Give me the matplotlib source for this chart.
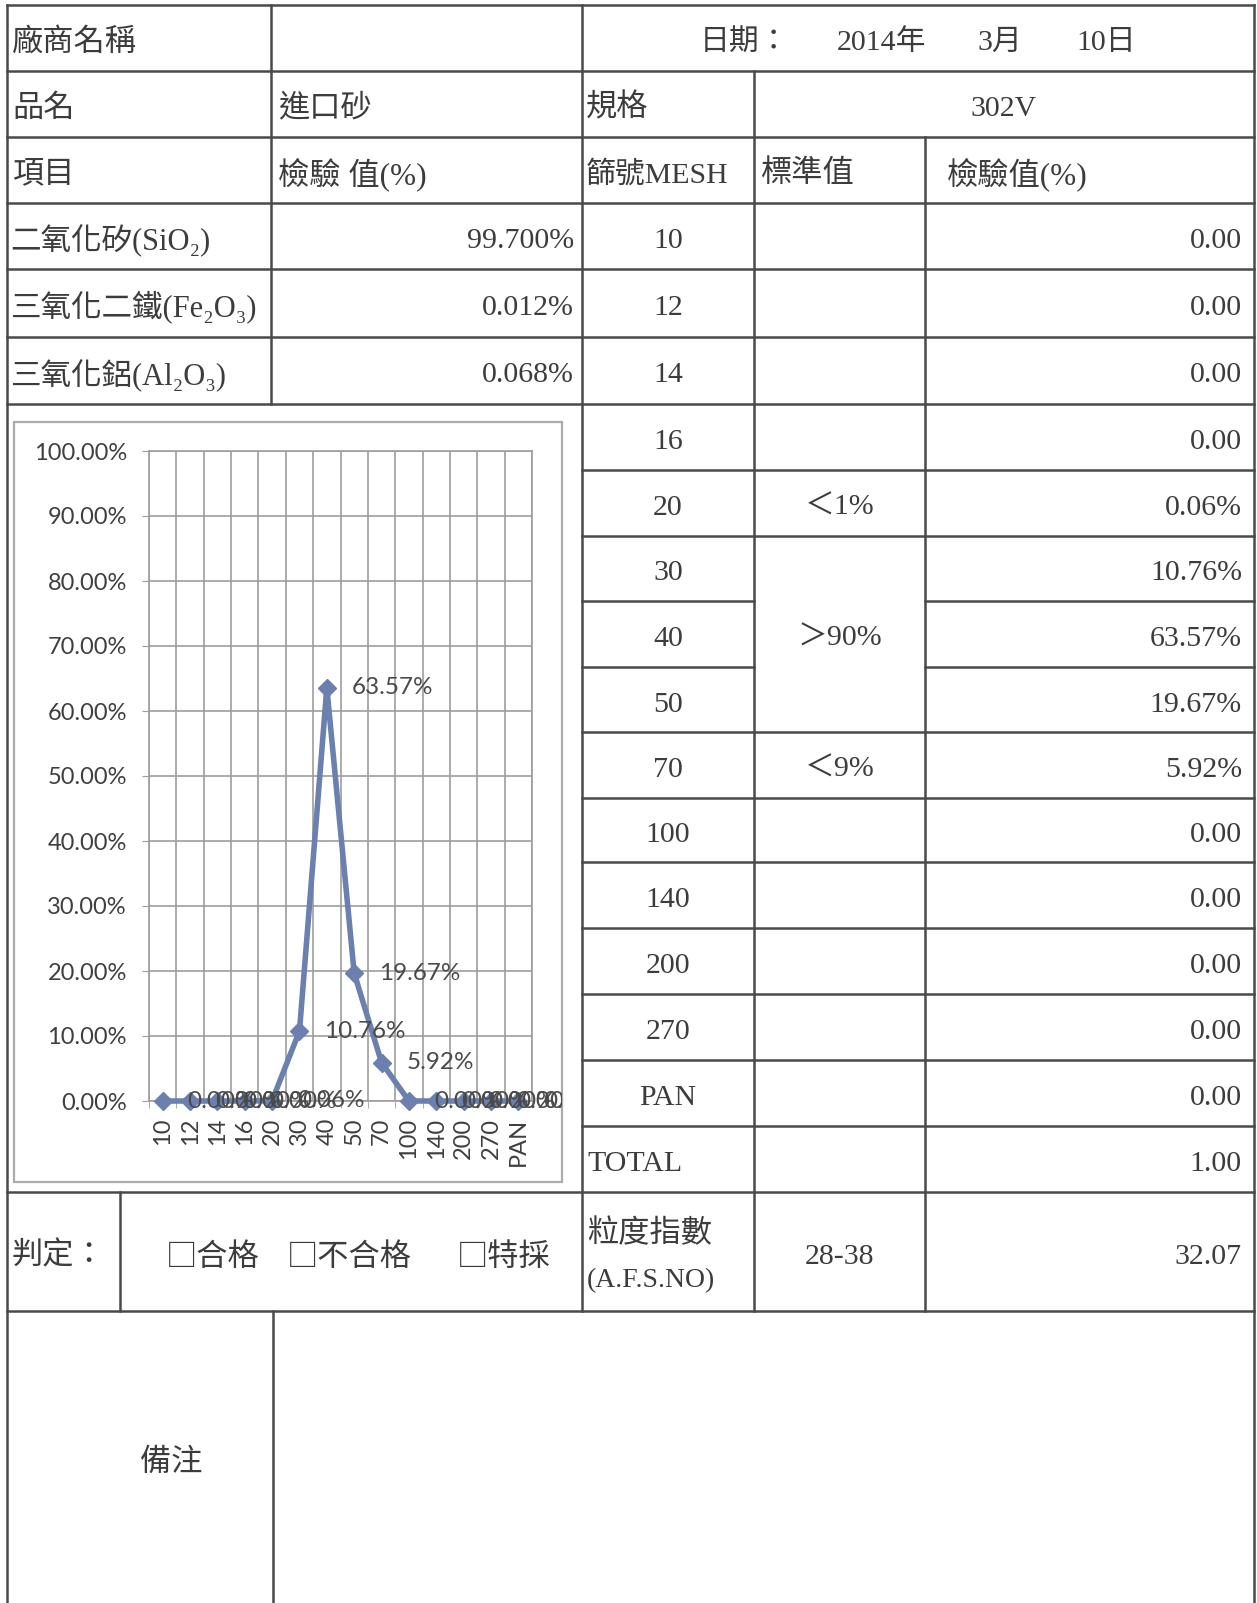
import numpy as np
import matplotlib.pyplot as plt
from matplotlib.patches import Rectangle
from matplotlib.ticker import PercentFormatter

# 表頭資料
date_parts = ['日期：', '2014年', '3月', '10日']
product = '進口砂'
spec = '302V'

# 化學成分
chem_names = ['二氧化矽(SiO₂)', '三氧化二鐵(Fe₂O₃)', '三氧化鋁(Al₂O₃)']
chem_vals = [99.700, 0.012, 0.068]

# 篩分析
mesh = ['10', '12', '14', '16', '20', '30', '40', '50', '70', '100', '140', '200', '270', 'PAN']
retained = [0.0, 0.0, 0.0, 0.0, 0.0006, 0.1076, 0.6357, 0.1967, 0.0592, 0.0, 0.0, 0.0, 0.0, 0.0]
std_labels = ['', '', '', '', '＜1%', '', '＞90%', '', '＜9%', '', '', '', '', '']
total = 1.00
afs_range = '28-38'
afs_no = 32.07
verdict = ['□合格', '□不合格', '□特採']

W, H = 1257, 1603
X0, X1, X2, X3, X4, X5 = 7, 271, 582, 754, 925, 1254
head_y = [5, 71, 137, 203, 269, 337, 404]
mesh_y = [203, 269, 337, 404, 470, 536, 601, 667, 732, 798, 862, 928, 994, 1060, 1126, 1192]
Y_JUDGE, Y_NOTE = 1192, 1311
merged = (5, 7)  # 30-50 共用標準值

line_c = '#4a4a4a'
text_c = '#3c3c3c'
fam = ['Liberation Serif', 'Noto Sans CJK TC', 'DejaVu Serif']
fam_cjk = ['Noto Sans CJK TC', 'Liberation Serif']
CJK, NUM = 22.5, 21.5

fig = plt.figure(figsize=(W / 100, H / 100), dpi=100)
bg = fig.add_axes([0, 0, 1, 1])
bg.set_xlim(0, W)
bg.set_ylim(H, 0)
bg.axis('off')


def hl(y, x1, x2):
    bg.plot([x1, x2], [y, y], color=line_c, lw=1.8, solid_capstyle='projecting')


def vl(x, y1, y2):
    bg.plot([x, x], [y1, y2], color=line_c, lw=1.8, solid_capstyle='projecting')


def txt(x, y, s, ha='left', size=CJK, family=fam):
    bg.text(x, y + 5, s, ha=ha, va='center', fontsize=size, color=text_c, family=family)


def mid(a, b):
    return (a + b) / 2


# 表格線
for y in head_y:
    hl(y, X0, X5)
for k in range(4, 15):
    y = mesh_y[k]
    if merged[0] < k <= merged[1]:
        hl(y, X2, X3)
        hl(y, X4, X5)
    else:
        hl(y, X2, X5)
hl(Y_JUDGE, X0, X5)
hl(Y_NOTE, X0, X5)

vl(X0, head_y[0], H)
vl(X1, head_y[0], head_y[-1])
vl(X2, head_y[0], Y_NOTE)
vl(X3, head_y[1], Y_NOTE)
vl(X4, head_y[2], Y_NOTE)
vl(X5, head_y[0], H)
vl(120, Y_JUDGE, Y_NOTE)
vl(273, Y_NOTE, H)

# 表頭文字
txt(12, mid(5, 71), '廠商名稱')
for x, s in zip([700, 837, 977, 1076], date_parts):
    txt(x, mid(5, 71), s, size=NUM)
txt(12, mid(71, 137), '品名')
txt(278, mid(71, 137), product)
txt(586, mid(71, 137), '規格')
txt(mid(X3, X5), mid(71, 137), spec, ha='center', size=NUM)
txt(12, mid(137, 203), '項目')
txt(278, mid(137, 203), '檢驗 值(%)')
txt(586, mid(137, 203), '篩號MESH', size=21.5)
txt(760, mid(137, 203), '標準值')
txt(947, mid(137, 203), '檢驗值(%)')

for i, (name, v) in enumerate(zip(chem_names, chem_vals)):
    yc = mid(head_y[3 + i], head_y[4 + i])
    txt(10, yc, name, size=22)
    txt(574, yc, f'{v:.3f}%', ha='right', size=NUM)

# 篩號列
for i, m in enumerate(mesh):
    yc = mid(mesh_y[i], mesh_y[i + 1])
    txt(mid(X2, X3), yc, m, ha='center', size=NUM)
    v = retained[i]
    s = '0.00' if v == 0 else f'{v * 100:.2f}%'
    txt(1242, yc, s, ha='right', size=NUM)
    if std_labels[i]:
        if i == 6:
            yc = mid(mesh_y[merged[0]], mesh_y[merged[1] + 1])
        txt(mid(X3, X4), yc, std_labels[i], ha='center', size=NUM)

yc = mid(mesh_y[-2], mesh_y[-1])
txt(587, yc, 'TOTAL', size=NUM)
txt(1242, yc, f'{total:.2f}', ha='right', size=NUM)

# 判定列
yc = mid(Y_JUDGE, Y_NOTE)
txt(12, yc, '判定：')
for x, s in zip([166, 287, 457], verdict):
    txt(x, yc, s, family=fam_cjk)
txt(587, yc - 22, '粒度指數')
txt(587, yc + 24, '(A.F.S.NO)', size=20)
txt(mid(X3, X4), yc, afs_range, ha='center', size=NUM)
txt(1242, yc, f'{afs_no:.2f}', ha='right', size=NUM)

txt(mid(X0, 273), 1458, '備注')

# 圖表外框
A0, A1, AT, AB = 14, 562, 422, 1182
bg.add_patch(Rectangle((A0, AT), A1 - A0, AB - AT, fill=False, ec='#ababab', lw=1.6))

# 篩分曲線
L, R, T, B = 149, 532, 451, 1101
ax = fig.add_axes([L / W, 1 - B / H, (R - L) / W, (B - T) / H])
ax.patch.set_alpha(0)
grid_c = '#9d9d9d'
blue = '#6b80ae'
lab_c = '#3f3f3f'
x = np.arange(len(mesh))
ax.plot(x, retained, color=blue, lw=4, marker='D', ms=9.5, mfc=blue, mec=blue, clip_on=False, zorder=5)

ax.set_xlim(-0.5, len(mesh) - 0.5)
ax.set_ylim(0, 1)
ax.set_yticks(np.arange(0, 1.001, 0.1))
ax.yaxis.set_major_formatter(PercentFormatter(1.0, decimals=2))
ax.set_xticks(x)
ax.set_xticklabels(mesh, rotation=90)
ax.set_xticks(np.arange(-0.5, len(mesh), 1), minor=True)
ax.grid(which='minor', axis='x', color=grid_c, lw=1.2)
ax.grid(which='major', axis='y', color=grid_c, lw=1.2)
for sp in ax.spines.values():
    sp.set_color(grid_c)
    sp.set_linewidth(1.2)
ax.tick_params(axis='y', length=5, color=grid_c, pad=11, labelsize=17, labelcolor=lab_c)
ax.tick_params(axis='x', which='major', length=0, pad=12, labelsize=17, labelcolor=lab_c)
ax.tick_params(axis='x', which='minor', length=5, color=grid_c)
for lab in ax.get_xticklabels() + ax.get_yticklabels():
    lab.set_family('Lato')

# 資料標籤 (裁在圖表區內)
lab_ax = fig.add_axes([A0 / W, 1 - AB / H, (A1 - A0) / W, (AB - AT) / H])
lab_ax.axis('off')
for i, v in enumerate(retained):
    lab_ax.annotate(f'{v:.2%}', (i, v), xycoords=ax.transData, xytext=(18, 0),
                    textcoords='offset points', ha='left', va='center', fontsize=17.5,
                    color='#4a4a4a', family='Lato', annotation_clip=False, clip_on=True)

fig.savefig('out.png', dpi=100)
